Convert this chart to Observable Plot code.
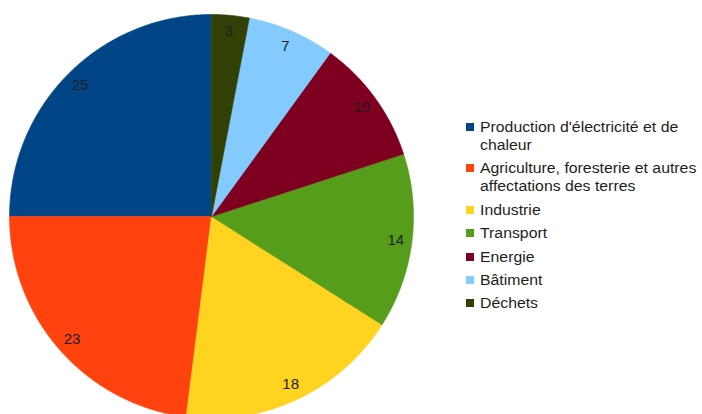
<!DOCTYPE html>
<html>
<head>
<meta charset="utf-8">
<script src="https://cdn.jsdelivr.net/npm/d3@7"></script>
<script src="https://cdn.jsdelivr.net/npm/@observablehq/plot@0.6"></script>
<style>
  html, body { margin: 0; padding: 0; background: #fff; overflow: hidden; }
  #wrap { position: relative; width: 702px; height: 414px; }
  #legend { position: absolute; left: 466px; top: 118px; font-family: "Liberation Sans", Arial, sans-serif; font-size: 14px; color: #1e1e1e; }
  .item { position: relative; padding-left: 14px; line-height: 18px; margin-bottom: 5.4px; white-space: pre-line; }
  .txt { display: inline-block; transform: scaleX(1.13); transform-origin: left center; white-space: pre; }
  .sw { position: absolute; left: 0; top: 5px; width: 8px; height: 8px; }
</style>
</head>
<body>
<div id="wrap"><div id="chart"></div><div id="legend"></div></div>
<script>
const categories = [
  "Production d'électricité et de\nchaleur",
  "Agriculture, foresterie et autres\naffectations des terres",
  "Industrie",
  "Transport",
  "Energie",
  "Bâtiment",
  "Déchets"
];
const values = [25, 23, 18, 14, 10, 7, 3];
const colors = ["#004586", "#ff420e", "#ffd320", "#579d1c", "#7e0021", "#83caff", "#314004"];

const total = d3.sum(values);
// LibreOffice-style: counterclockwise from 12 o'clock, in data order
const slices = [];
const labels = [];
let cum = 0;
values.forEach((v, i) => {
  const a0 = -cum / total * 2 * Math.PI;
  const a1 = -(cum + v) / total * 2 * Math.PI;
  const n = Math.max(2, Math.ceil(Math.abs(a1 - a0) / (Math.PI / 360)));
  slices.push({name: categories[i], x: 0, y: 0});
  for (let k = 0; k <= n; k++) {
    const a = a0 + (a1 - a0) * k / n;
    slices.push({name: categories[i], x: Math.sin(a), y: Math.cos(a)});
  }
  slices.push({name: categories[i], x: 0, y: 0});
  const am = (a0 + a1) / 2;
  labels.push({x: 0.92 * Math.sin(am), y: 0.92 * Math.cos(am), text: String(v)});
  cum += v;
});

const chart = Plot.plot({
  width: 702,
  height: 414,
  marginLeft: 9,
  marginRight: 289,
  marginTop: 14,
  marginBottom: 0,
  x: {domain: [-1, 1], axis: null},
  y: {domain: [-198 / 202, 1], axis: null},
  color: {domain: categories, range: colors},
  style: {fontFamily: "Liberation Sans, Arial, sans-serif", background: "white"},
  marks: [
    Plot.line(slices, {x: "x", y: "y", z: "name", fill: "name", stroke: "name", strokeWidth: 0.6, curve: "linear"}),
    Plot.text(labels, {x: "x", y: "y", text: "text", fontSize: 15, fill: "#1e1e1e"})
  ]
});
document.getElementById("chart").appendChild(chart);

const legend = document.getElementById("legend");
categories.forEach((c, i) => {
  const item = document.createElement("div");
  item.className = "item";
  const sw = document.createElement("span");
  sw.className = "sw";
  sw.style.background = colors[i];
  item.appendChild(sw);
  const t = document.createElement("span");
  t.className = "txt";
  t.textContent = c;
  item.appendChild(t);
  legend.appendChild(item);
});
</script>
</body>
</html>
